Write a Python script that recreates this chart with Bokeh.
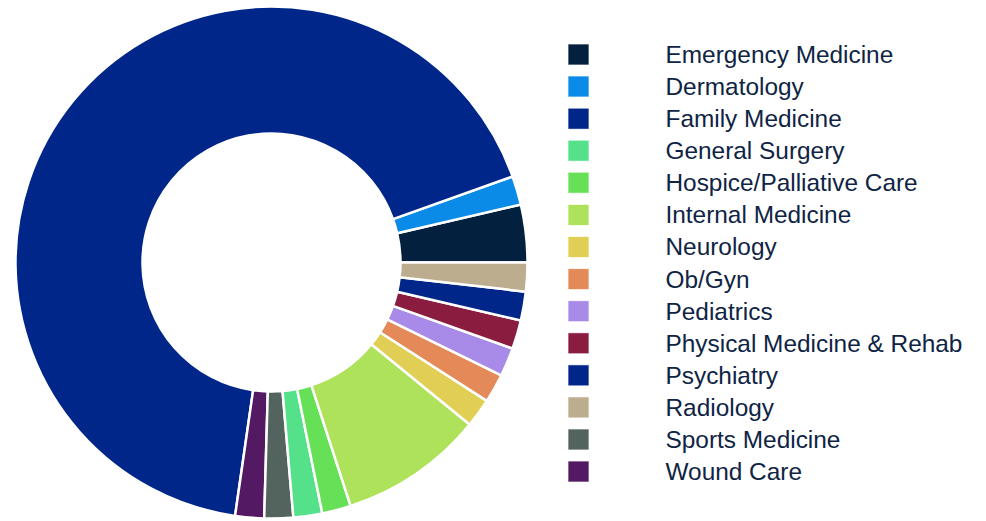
import numpy as np
from bokeh.plotting import figure
from bokeh.models import Range1d, ColumnDataSource
from bokeh.core.properties import value
from bokeh.embed import file_html
from bokeh.resources import INLINE

# Legend order
categories = ["Emergency Medicine", "Dermatology", "Family Medicine", "General Surgery",
              "Hospice/Palliative Care", "Internal Medicine", "Neurology", "Ob/Gyn",
              "Pediatrics", "Physical Medicine & Rehab", "Psychiatry", "Radiology",
              "Sports Medicine", "Wound Care"]
values = [2, 1, 37, 1, 1, 5, 1, 1, 1, 1, 1, 1, 1, 1]
colors = ["#03203F", "#0A8BE8", "#00268A", "#55E08A", "#66E056", "#AEE25A", "#E1CF55",
          "#E38A58", "#A88AE8", "#891C3F", "#00268A", "#BDAD8F", "#53635E", "#531A63"]
# Order of slices, anticlockwise from 3 o'clock
pie_order = ["Emergency Medicine", "Dermatology", "Family Medicine", "Wound Care",
             "Sports Medicine", "General Surgery", "Hospice/Palliative Care",
             "Internal Medicine", "Neurology", "Ob/Gyn", "Pediatrics",
             "Physical Medicine & Rehab", "Psychiatry", "Radiology"]

W, H = 986, 521
p = figure(width=W, height=H, output_backend="svg", toolbar_location=None,
           x_range=Range1d(0, W), y_range=Range1d(0, H),
           x_axis_type=None, y_axis_type=None, min_border=0)
p.outline_line_color = None
p.grid.visible = False
p.background_fill_color = "white"

idx = [categories.index(c) for c in pie_order]
vals = np.array([values[i] for i in idx], dtype=float)
total = vals.sum()
cum = np.concatenate([[0], np.cumsum(vals)])
start = 2 * np.pi * cum[:-1] / total
end = 2 * np.pi * cum[1:] / total
src = ColumnDataSource(dict(start=start, end=end, color=[colors[i] for i in idx]))

cx, cy = 271, H - 262
p.annular_wedge(x=cx, y=cy, inner_radius=129, outer_radius=256,
                start_angle="start", end_angle="end", direction="anticlock",
                fill_color="color", line_color="white", line_width=2.5, source=src)

# Legend
n = len(categories)
row_y = [H - (54 + 32.08 * i) for i in range(n)]
lsrc = ColumnDataSource(dict(y=row_y, label=categories, color=colors,
                             sx=[578] * n, tx=[665] * n))
p.scatter(x="sx", y="y", marker="square", size=20, fill_color="color",
          line_color="color", line_alpha=0.3, source=lsrc)
p.text(x="tx", y="y", text="label", text_baseline="middle", text_align="left",
       text_font=value("Liberation Sans"), text_font_size="24.4px",
       text_color="#0F2444", source=lsrc)

open("out.html", "w").write(file_html(p, INLINE))
